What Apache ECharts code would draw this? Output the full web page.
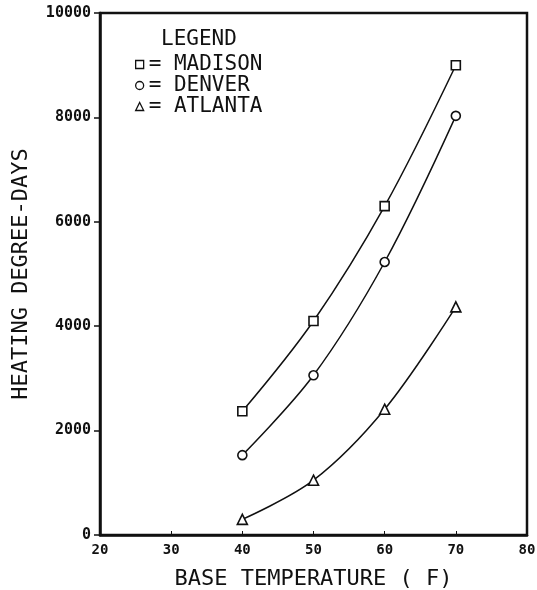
<!DOCTYPE html>
<html>
<head>
<meta charset="utf-8">
<script src="https://cdn.jsdelivr.net/npm/echarts@6/dist/echarts.min.js"></script>
<style>
  html, body { margin: 0; padding: 0; background: #fff; }
  #chart { width: 537px; height: 590px; }
</style>
</head>
<body>
<div id="chart"></div>
<script>
// values
const baseTemps = [40, 50, 60, 70];
const madison = [2370, 4100, 6300, 9000];
const denver = [1530, 3060, 5230, 8030];
const atlanta = [300, 1050, 2410, 4370];
const cityNames = ["MADISON", "DENVER", "ATLANTA"];
const citySymbols = ["rect", "circle", "triangle"];

// plotter-style lettering -> monospaced
const FONT = "DejaVu Sans Mono";
const chart = echarts.init(document.getElementById("chart"));

function pairs(vals) {
  return baseTemps.map((t, i) => [t, vals[i]]);
}

function mkSeries(name, vals, symbol) {
  return {
    name: name,
    type: "line",
    data: pairs(vals),
    smooth: 0.35,
    symbol: symbol,
    symbolSize: symbol === "triangle" ? 10 : 9,
    lineStyle: { color: "#111", width: 1.5 },
    itemStyle: { color: "#fff", borderColor: "#111", borderWidth: 1.6 },
    z: 3
  };
}

chart.setOption({
  animation: false,
  backgroundColor: "#fff",
  textStyle: { fontFamily: FONT },
  grid: {
    left: 100, right: 10, top: 13, bottom: 55,
    containLabel: false,
    outerBoundsMode: "none",
    show: true, borderColor: "#111", borderWidth: 2.5
  },
  graphic: [
    {
      type: "text",
      left: 161, top: 29,
      style: { text: "LEGEND", font: "21px " + FONT, fill: "#111" }
    }
  ],
  legend: {
    orient: "vertical",
    left: 130, top: 49,
    itemGap: 0,
    itemWidth: 8, itemHeight: 8,
    textStyle: { fontFamily: FONT, fontSize: 21, color: "#111" },
    formatter: (n) => "= " + n,
    data: cityNames.map((n, i) => ({
      name: n,
      icon: citySymbols[i],
      itemStyle: { color: "#fff", borderColor: "#111", borderWidth: 1.3 }
    }))
  },
  xAxis: {
    type: "value",
    min: 20, max: 80, interval: 10,
    name: "BASE TEMPERATURE ( F)",
    nameLocation: "middle",
    nameGap: 33,
    nameTextStyle: { fontFamily: FONT, fontSize: 22, color: "#111" },
    axisLine: { show: true, lineStyle: { color: "#111", width: 2.5 } },
    axisTick: { show: true, inside: true, length: 4, lineStyle: { color: "#111" } },
    axisLabel: { fontFamily: FONT, fontSize: 14, fontWeight: "bold", color: "#111", margin: 8 },
    splitLine: { show: false }
  },
  yAxis: {
    type: "value",
    min: 0, max: 10000, interval: 2000,
    name: "HEATING DEGREE-DAYS",
    nameLocation: "middle",
    nameRotate: 90,
    nameGap: 68,
    nameTextStyle: { fontFamily: FONT, fontSize: 22, color: "#111" },
    axisLine: { show: true, lineStyle: { color: "#111", width: 2.5 } },
    axisTick: { show: true, length: 6, lineStyle: { color: "#111", width: 1.5 } },
    axisLabel: {
      fontFamily: FONT, fontSize: 15, fontWeight: "bold", color: "#111", margin: 9,
      formatter: (v) => String(v)
    },
    splitLine: { show: false }
  },
  series: [
    mkSeries(cityNames[0], madison, citySymbols[0]),
    mkSeries(cityNames[1], denver, citySymbols[1]),
    mkSeries(cityNames[2], atlanta, citySymbols[2])
  ]
});
</script>
</body>
</html>
